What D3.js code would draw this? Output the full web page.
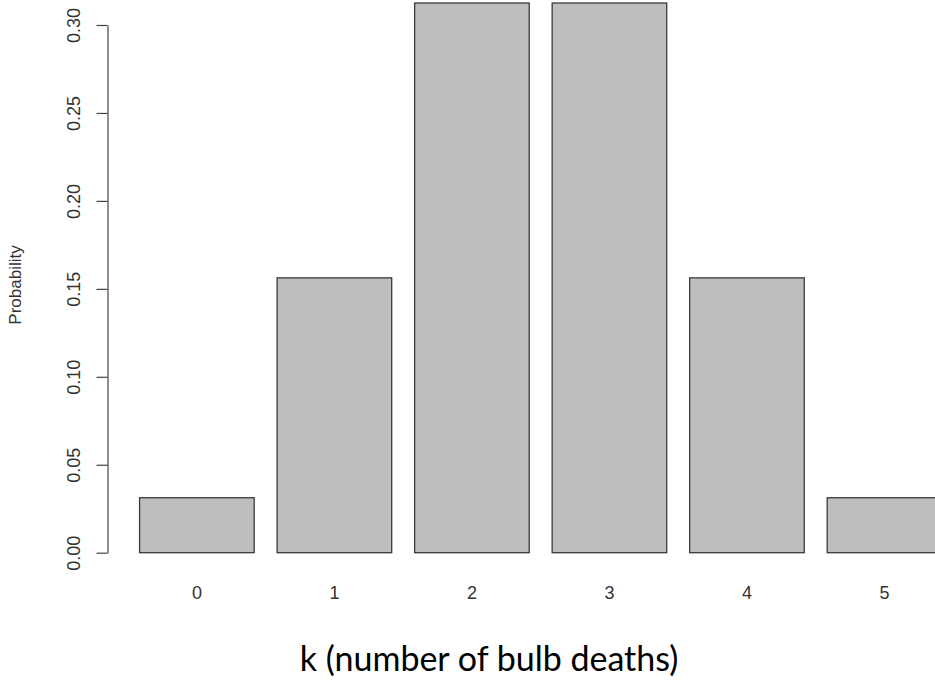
<!DOCTYPE html>
<html><head><meta charset="utf-8">
<script src="https://cdn.jsdelivr.net/npm/d3@7"></script>
<style>html,body{margin:0;padding:0;background:#fff;}svg{display:block;}</style>
</head><body>
<svg id="chart" width="935" height="680"></svg>
<script>
const categories = ["0","1","2","3","4","5"];
const probabilities = [0.03125, 0.15625, 0.3125, 0.3125, 0.15625, 0.03125];
const yTicks = [0, 0.05, 0.10, 0.15, 0.20, 0.25, 0.30];
const yTickLabels = ["0.00","0.05","0.10","0.15","0.20","0.25","0.30"];
const yLabel = "Probability";
const xTitle = "k (number of bulb deaths)";

const svg = d3.select("#chart");
const barWidth = 1, space = 0.2;
const lefts = categories.map((c,i)=> space + i*(barWidth+space));
const x = d3.scaleLinear().domain([-0.08, 7.48]).range([107.5, 107.5 + 7.56*114.6]);
const y = d3.scaleLinear().domain([0, 0.30]).range([552.7, 25]);

// bars
svg.append("g").selectAll("rect").data(probabilities).join("rect")
  .attr("x", (d,i)=>x(lefts[i]))
  .attr("y", d=>y(d))
  .attr("width", (d,i)=>x(lefts[i]+barWidth)-x(lefts[i]))
  .attr("height", d=>y(0)-y(d))
  .attr("fill", "#bebebe")
  .attr("stroke", "#3a3a3a")
  .attr("stroke-width", 1.3);

// y axis
const yAxis = d3.axisLeft(y).tickValues(yTicks).tickFormat((d,i)=>yTickLabels[i]).tickSize(11).tickSizeOuter(0).tickPadding(4);
const ga = svg.append("g").attr("transform", `translate(${x(-0.08)},0)`).call(yAxis);
ga.select(".domain").attr("stroke","#444").attr("stroke-width",1.2);
ga.selectAll(".tick line").attr("stroke","#444").attr("stroke-width",1.2);
ga.selectAll(".tick text").remove();
ga.selectAll(".tick").append("text")
  .attr("transform","translate(-34,0) rotate(-90)")
  .attr("text-anchor","middle").attr("dy","0.35em")
  .attr("fill","#333").style("font-family","'Liberation Sans', Arial, sans-serif").style("font-size","18px")
  .text((d,i)=>yTickLabels[i]);

// x labels (no axis line, as R barplot)
svg.append("g").selectAll("text").data(categories).join("text")
  .attr("x",(d,i)=>x(lefts[i]+barWidth/2))
  .attr("y",593).attr("dy","0.35em").attr("text-anchor","middle")
  .attr("fill","#333").style("font-family","'Liberation Sans', Arial, sans-serif").style("font-size","18px")
  .text(d=>d);

// y label
svg.append("text").attr("transform","translate(15,285) rotate(-90)")
  .attr("text-anchor","middle").attr("dy","0.35em")
  .attr("fill","#333").style("font-family","'Liberation Sans', Arial, sans-serif").style("font-size","17px")
  .text(yLabel);

// x title
svg.append("text").attr("x",489).attr("y",671).attr("text-anchor","middle")
  .attr("fill","#000").style("font-family","Lato, 'Open Sans', sans-serif").style("font-size","34px")
  .text(xTitle);
</script>
</body></html>
